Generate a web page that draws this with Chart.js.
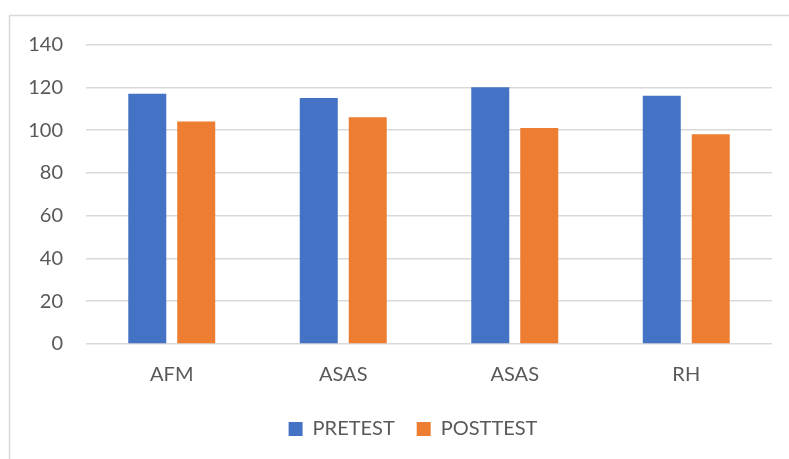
<!DOCTYPE html>
<html>
<head>
<meta charset="utf-8">
<script src="https://cdn.jsdelivr.net/npm/chart.js@4/dist/chart.umd.min.js"></script>
<style>
  html, body { margin: 0; padding: 0; background: #ffffff; }
  #wrap { width: 789px; height: 459px; position: relative; }
  canvas { display: block; }
</style>
</head>
<body>
<div id="wrap"><canvas id="chart" width="789" height="459"></canvas></div>
<script>
// Scale categories and the two test series
const categories = ["AFM", "ASAS", "ASAS", "RH"];
const pretest = [117, 115, 120, 116];
const posttest = [104, 106, 101, 98];
const seriesNames = ["PRETEST", "POSTTEST"];
const yTicks = [0, 20, 40, 60, 80, 100, 120, 140];

const FONT = "Lato, 'Open Sans', sans-serif";
const TEXT = "#595959";
const GRID = "#d9d9d9";

// Thin frame around the chart, open at the right and bottom edges
const framePlugin = {
  id: "frame",
  beforeDraw(chart) {
    const ctx = chart.ctx;
    ctx.save();
    ctx.strokeStyle = GRID;
    ctx.lineWidth = 1.5;
    ctx.beginPath();
    ctx.moveTo(9.5, 470);
    ctx.lineTo(9.5, 15.5);
    ctx.lineTo(800, 15.5);
    ctx.stroke();
    ctx.restore();
  }
};

// Center the legend under the plot area rather than the whole canvas
const legendShift = {
  id: "legendShift",
  afterLayout(chart) {
    const lg = chart.legend;
    if (!lg) return;
    const dx = (chart.chartArea.left + chart.chartArea.right) / 2 - (lg.left + lg.right) / 2 - 16;
    lg.left += dx;
    lg.right += dx;
  }
};

new Chart(document.getElementById("chart"), {
  type: "bar",
  data: {
    labels: categories,
    datasets: [
      { label: seriesNames[0], data: pretest, backgroundColor: "#4472C4" },
      { label: seriesNames[1], data: posttest, backgroundColor: "#ED7D31" }
    ]
  },
  options: {
    responsive: false,
    animation: false,
    devicePixelRatio: 1,
    layout: { padding: { left: 0, right: 17, top: 44.5, bottom: 10 } },
    datasets: { bar: { categoryPercentage: 0.571, barPercentage: 0.776 } },
    scales: {
      x: {
        afterFit(scale) { scale.height = scale.height - 9; },
        grid: { display: false, drawTicks: false },
        border: { display: false },
        ticks: { color: TEXT, font: { family: FONT, size: 20 }, padding: 19 }
      },
      y: {
        min: 0,
        max: 140,
        afterFit(scale) { scale.width = 86; },
        afterBuildTicks(scale) { scale.ticks = yTicks.map(v => ({ value: v })); },
        grid: { color: GRID, lineWidth: 1.5, drawTicks: false },
        border: { display: false },
        ticks: { color: TEXT, font: { family: FONT, size: 20 }, padding: 23 }
      }
    },
    plugins: {
      legend: {
        position: "bottom",
        labels: {
          color: TEXT,
          font: { family: FONT, size: 20 },
          boxWidth: 14,
          boxHeight: 14,
          padding: 22
        }
      },
      tooltip: { enabled: false }
    }
  },
  plugins: [framePlugin, legendShift]
});
</script>
</body>
</html>
